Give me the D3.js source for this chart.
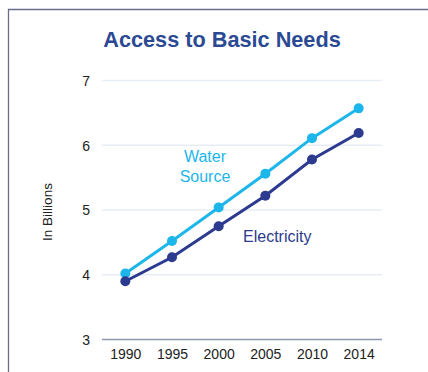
<!doctype html>
<meta charset='utf-8' />
<script src='https://cdn.jsdelivr.net/npm/d3@7'></script>
<style>
    body { margin: 0; background: #fff; }
    text { font-family: 'Liberation Sans', Arial, sans-serif; }
</style>
<svg></svg>
<script>
    var width = 428,
        height = 372

    var years = ['1990', '1995', '2000', '2005', '2010', '2014']
    var water = [4.02, 4.52, 5.04, 5.56, 6.11, 6.57]
    var electricity = [3.9, 4.27, 4.75, 5.22, 5.78, 6.19]
    var yTicks = [3, 4, 5, 6, 7]

    var svg = d3.select('svg')
        .attr('width', width)
        .attr('height', height)

    // frame
    svg.append('path')
        .attr('d', 'M8.5,' + (height + 2) + 'V9.5H' + (width + 2))
        .attr('fill', 'none')
        .attr('stroke', '#6b6b8e')
        .attr('stroke-width', 1.3)

    var x = d3.scalePoint().domain(years).range([102, 382]).padding(0.5)
    var y = d3.scaleLinear().domain([3, 7]).range([339.5, 80.5])

    svg.selectAll('.grid')
        .data(yTicks)
        .enter()
        .append('line')
        .attr('x1', 102).attr('x2', 382)
        .attr('y1', d => y(d)).attr('y2', d => y(d))
        .style('stroke', d => d === 3 ? '#8a97ad' : '#e7edf6')
        .style('stroke-width', 1.5)

    var yAxis = svg.append('g')
        .attr('transform', 'translate(93,0)')
        .call(d3.axisLeft(y).tickValues(yTicks).tickSize(0).tickFormat(d3.format('d')))
    yAxis.select('.domain').remove()
    yAxis.selectAll('text').attr('font-size', 14).attr('fill', '#222').attr('dy', '0.35em')

    var xAxis = svg.append('g')
        .attr('transform', 'translate(0,346)')
        .call(d3.axisBottom(x).tickSize(0))
    xAxis.select('.domain').remove()
    xAxis.selectAll('text').attr('font-size', 14).attr('fill', '#222').attr('dy', '0.71em')

    svg.append('text')
        .attr('transform', 'translate(52,212) rotate(-90)')
        .attr('text-anchor', 'middle')
        .attr('font-size', 13.5)
        .attr('fill', '#222')
        .text('In Billions')

    svg.append('text')
        .attr('x', 222).attr('y', 47)
        .attr('text-anchor', 'middle')
        .attr('font-size', 21.7)
        .attr('font-weight', 'bold')
        .attr('fill', '#2b4a93')
        .text('Access to Basic Needs')

    var series = [
        { name: 'water', values: water, color: '#1db6ea' },
        { name: 'electricity', values: electricity, color: '#2c3a8f' }
    ]

    var line = d3.line()
        .x((d, i) => x(years[i]))
        .y(d => y(d))

    series.forEach(s => {
        svg.append('path')
            .datum(s.values)
            .attr('d', line)
            .attr('fill', 'none')
            .attr('stroke', s.color)
            .attr('stroke-width', 3)
        svg.selectAll('.dot-' + s.name)
            .data(s.values)
            .enter()
            .append('circle')
            .attr('cx', (d, i) => x(years[i]))
            .attr('cy', d => y(d))
            .attr('r', 5)
            .attr('fill', s.color)
    })

    svg.append('text')
        .attr('x', 205).attr('y', 162)
        .attr('text-anchor', 'middle')
        .attr('font-size', 16)
        .attr('fill', '#1db6ea')
        .selectAll('tspan')
        .data(['Water', 'Source'])
        .enter()
        .append('tspan')
        .attr('x', 205)
        .attr('dy', (d, i) => i ? 20 : 0)
        .text(d => d)

    svg.append('text')
        .attr('x', 243).attr('y', 242)
        .attr('font-size', 16)
        .attr('fill', '#2c3a8f')
        .text('Electricity')
</script>
